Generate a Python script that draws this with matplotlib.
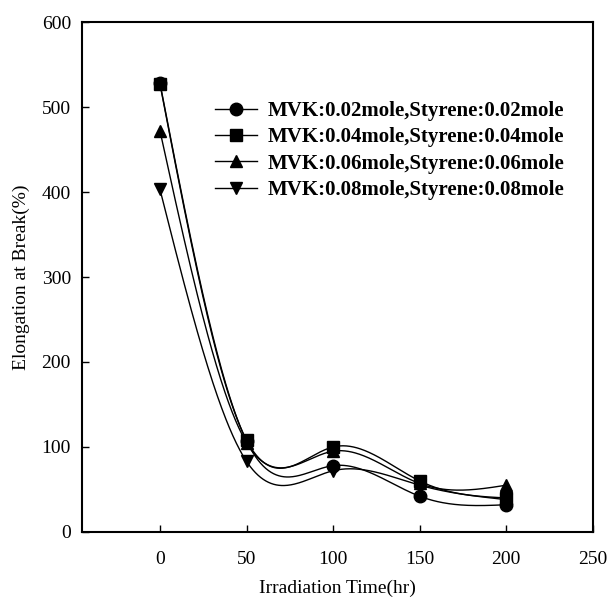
import numpy as np
import matplotlib
matplotlib.use("Agg")
import matplotlib.pyplot as plt

plt.rcParams['font.family'] = ['Liberation Serif', 'DejaVu Serif']

time_hr = [0, 50, 100, 150, 200]
mvk002 = [528, 107, 78, 42, 32]
mvk004 = [527, 108, 100, 60, 40]
mvk006 = [472, 105, 95, 57, 55]
mvk008 = [403, 83, 72, 55, 38]

labels = ["MVK:0.02mole,Styrene:0.02mole",
          "MVK:0.04mole,Styrene:0.04mole",
          "MVK:0.06mole,Styrene:0.06mole",
          "MVK:0.08mole,Styrene:0.08mole"]
series = [mvk002, mvk004, mvk006, mvk008]
markers = ['o', 's', '^', 'v']


def natural_spline(x, y, xs):
    x = np.asarray(x, float)
    y = np.asarray(y, float)
    n = len(x)
    h = np.diff(x)
    A = np.zeros((n, n))
    b = np.zeros(n)
    A[0, 0] = 1
    A[-1, -1] = 1
    for i in range(1, n - 1):
        A[i, i - 1] = h[i - 1]
        A[i, i] = 2 * (h[i - 1] + h[i])
        A[i, i + 1] = h[i]
        b[i] = 3 * ((y[i + 1] - y[i]) / h[i] - (y[i] - y[i - 1]) / h[i - 1])
    c = np.linalg.solve(A, b)
    out = np.empty_like(xs, dtype=float)
    for k, xv in enumerate(xs):
        i = min(np.searchsorted(x, xv, side='right') - 1, n - 2)
        i = max(i, 0)
        dx = xv - x[i]
        bi = (y[i + 1] - y[i]) / h[i] - h[i] * (2 * c[i] + c[i + 1]) / 3
        di = (c[i + 1] - c[i]) / (3 * h[i])
        out[k] = y[i] + bi * dx + c[i] * dx ** 2 + di * dx ** 3
    return out


fig = plt.figure(figsize=(6.08, 5.97), dpi=100)
ax = fig.add_axes([0.135, 0.109, 0.840, 0.854])

xs = np.linspace(time_hr[0], time_hr[-1], 400)
for ys, m, lab in zip(series, markers, labels):
    ax.plot(xs, natural_spline(time_hr, ys, xs), color='black', lw=1.0)
    ax.plot(time_hr, ys, linestyle='none', marker=m, color='black', ms=9)
    ax.plot([], [], color='black', lw=1.0, marker=m, ms=9, label=lab)

ax.set_xlim(-45, 250)
ax.set_ylim(0, 600)
ax.set_xticks([0, 50, 100, 150, 200, 250])
ax.set_yticks([0, 100, 200, 300, 400, 500, 600])
ax.tick_params(direction='in', length=5, width=1, labelsize=14, pad=8)
ax.tick_params(axis='x', pad=14)
for s in ax.spines.values():
    s.set_linewidth(1.5)

ax.set_xlabel("Irradiation Time(hr)", fontsize=14, labelpad=8)
ax.set_ylabel("Elongation at Break(%)", fontsize=14, labelpad=8)

leg = ax.legend(loc='upper left', bbox_to_anchor=(0.26, 0.845), frameon=False,
                prop={'weight': 'bold', 'size': 15}, handlelength=2.0,
                handletextpad=0.55, labelspacing=0.3, borderaxespad=0,
                borderpad=0)

fig.savefig("out.png", dpi=100)
